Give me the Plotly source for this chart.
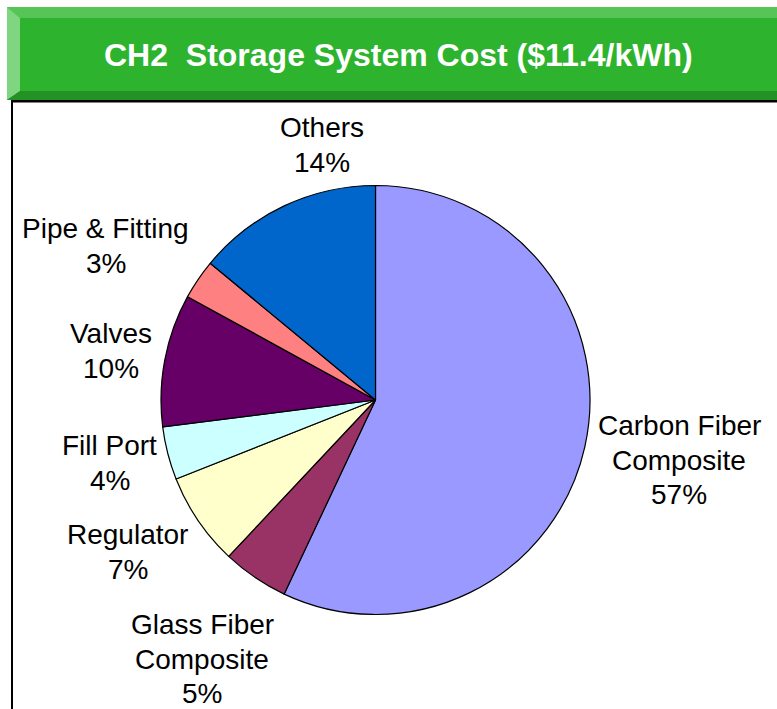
import plotly.graph_objects as go

# ---- data ----
categories = ["Carbon Fiber Composite", "Glass Fiber Composite", "Regulator",
              "Fill Port", "Valves", "Pipe & Fitting", "Others"]
label_lines = [["Carbon Fiber", "Composite"], ["Glass Fiber", "Composite"], ["Regulator"],
               ["Fill Port"], ["Valves"], ["Pipe & Fitting"], ["Others"]]
shares = [57, 5, 7, 4, 10, 3, 14]
colors = ["#9999FF", "#993366", "#FFFFCC", "#CCFFFF", "#660066", "#FF8080", "#0066CC"]
title_text = "CH2  Storage System Cost ($11.4/kWh)"

# label block centres (window pixels) for the data labels
label_pos = [(679, 460), (202, 659), (127.5, 552), (109.5, 463),
             (111, 351), (105.5, 246), (322, 145)]
LINE_GAP = 34.5

W, H = 777, 709


def px(x):
    return x / W


def py(y):
    return 1 - y / H


cx, cy, r = 375.5, 400, 214.5

fig = go.Figure()
fig.add_trace(go.Pie(
    labels=categories,
    values=shares,
    sort=False,
    direction="clockwise",
    rotation=0,
    marker=dict(colors=colors, line=dict(color="black", width=1.2)),
    textinfo="none",
    hoverinfo="label+percent",
    showlegend=False,
    domain=dict(x=[px(cx - r), px(cx + r)], y=[py(cy + r), py(cy - r)]),
))

total = sum(shares)
for lines, v, (lx, ly) in zip(label_lines, shares, label_pos):
    pct = round(100 * v / total)
    all_lines = lines + [f"{pct}%"]
    n = len(all_lines)
    for i, line in enumerate(all_lines):
        yy = ly + (i - (n - 1) / 2) * LINE_GAP
        fig.add_annotation(
            x=px(lx), y=py(yy), xref="paper", yref="paper",
            text=line, showarrow=False,
            xanchor="center", yanchor="middle", align="center",
            font=dict(family="Liberation Sans, Arial, sans-serif", size=28, color="black"),
        )

shapes = []


def rect(x0, y0, x1, y1, color):
    return dict(type="rect", xref="paper", yref="paper",
                x0=px(x0), x1=px(x1), y0=py(y1), y1=py(y0),
                fillcolor=color, line=dict(width=0), layer="above")


def poly(points, color):
    path = "M " + " L ".join(f"{px(a)},{py(b)}" for a, b in points) + " Z"
    return dict(type="path", xref="paper", yref="paper", path=path,
                fillcolor=color, line=dict(width=0), layer="above")


# banner with bevel
shapes.append(rect(7, 7, 777, 100, "#2DB32D"))
shapes.append(poly([(7, 7), (777, 7), (777, 18), (20, 18)], "#56C456"))
shapes.append(poly([(7, 7), (20, 18), (20, 91), (7, 100)], "#80D680"))
shapes.append(poly([(7, 100), (20, 91), (777, 91), (777, 100)], "#239123"))
# black frame lines
shapes.append(rect(11, 100, 777, 102.5, "#000000"))
shapes.append(rect(11, 100, 13, 709, "#000000"))

fig.add_annotation(
    x=px(398), y=py(55), xref="paper", yref="paper",
    text=f"<b>{title_text}</b>", showarrow=False,
    xanchor="center", yanchor="middle",
    font=dict(family="Liberation Sans, Arial, sans-serif", size=32, color="white"),
)

fig.update_layout(
    width=W, height=H,
    margin=dict(l=0, r=0, t=0, b=0),
    paper_bgcolor="white",
    plot_bgcolor="white",
    shapes=shapes,
)

fig.write_html(
    "out.html",
    config={"displayModeBar": False},
    post_script="document.body.style.margin='0';document.body.style.overflow='hidden';",
)
